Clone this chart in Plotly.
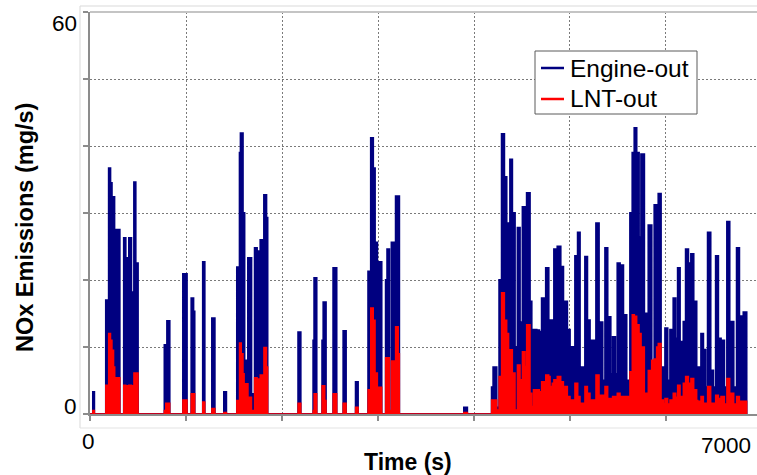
import plotly.graph_objects as go

# ---- data (step series: time in s, NOx in mg/s) ----
engine_time = [0, 30, 45, 165, 195, 213, 228, 255, 274, 310, 352, 372, 389, 405, 431, 448, 458, 476, 500,
               775, 802, 830, 968, 1010, 1055, 1078, 1090, 1175, 1195, 1270, 1300, 1395, 1420,
               1530, 1558, 1568, 1593, 1610, 1645, 1682, 1715, 1740, 1760, 1774, 1802, 1812, 1838, 1850,
               2168, 2195, 2325, 2335, 2361, 2418, 2430, 2458, 2533, 2569, 2638, 2667, 2767, 2792,
               2897, 2925, 2950, 2969, 2993, 3003, 3038, 3080, 3095, 3118, 3140, 3177, 3184, 3222,
               3895, 3930,
               4184, 4200, 4236, 4262, 4288, 4316, 4340, 4375, 4399, 4427, 4453, 4479, 4505, 4531, 4549,
               4583, 4601, 4620, 4653, 4680, 4705, 4733, 4748, 4778, 4792, 4816, 4833, 4868, 4903, 4913,
               4931, 4948, 4972, 5000, 5017, 5045, 5052, 5080, 5104, 5139, 5156, 5181, 5208, 5226, 5253,
               5271, 5302, 5313, 5340, 5365, 5392, 5424, 5444, 5472, 5493,
               5521, 5556, 5590, 5608, 5625, 5649, 5670, 5694, 5719, 5740, 5774, 5809, 5816, 5851, 5878,
               5903, 5920, 5948, 5972, 5990, 6017, 6042, 6066, 6076, 6101, 6122, 6146, 6181, 6205, 6233,
               6260, 6288, 6319, 6330, 6358, 6365, 6389, 6413, 6434, 6465, 6493, 6518, 6545, 6573, 6608,
               6635, 6663, 6677, 6705, 6736, 6764, 6788, 6806, 6840]
engine_nox = [0, 3.3, 0, 17, 36.7, 34.5, 32.4, 26.4, 27.5, 0, 26.3, 23.3, 10, 26.3, 18.2, 5, 34.6, 22.5, 0,
              10.3, 13.9, 0, 20.9, 0, 17.3, 15.3, 0, 22.7, 0, 14.3, 0, 3.3, 0,
              21.9, 39, 41.9, 30, 8, 23.3, 3, 24.8, 24.3, 6, 26, 5, 32.7, 29.3, 0,
              12.2, 0, 11, 20.3, 0, 11, 16.7, 0, 21.8, 0, 12.4, 0, 4.8, 0,
              21.3, 41.2, 36.7, 25.6, 4, 22.7, 0, 20, 24.6, 0, 25.6, 3, 32.5, 0,
              1, 0,
              4, 7, 1, 20, 41.8, 35.4, 28.5, 38, 30, 10, 27.8, 13.7, 30.9, 30, 33,
              16.8, 2.1, 12.6, 12.5, 12.3, 17.3, 7, 21.8, 8, 14, 8, 24.6, 25, 10, 22,
              8, 16.8, 12.6, 6, 10, 6, 23.6, 27.1, 7, 6, 23.5, 14, 5, 11, 6,
              28.5, 6, 13.7, 5, 24.8, 14.5, 6, 11.5, 6, 22.5,
              22.2, 14.8, 5, 3, 30, 39, 42.7, 39, 26.4, 38.8, 15, 8, 28.2, 7, 31.2,
              26, 32.9, 7, 3, 12.8, 5, 12.6, 8, 17.3, 11.3, 21.8, 10.8, 13.8, 24.6, 22.5,
              23.9, 16.8, 5, 7, 5, 12, 9.6, 4, 27.1, 6.5, 4, 23.6, 11.3, 11, 4,
              28.7, 5, 13.8, 4, 24.8, 14.6, 4, 15.2, 0]

lnt_time = [0, 30, 45, 165, 195, 213, 228, 245, 257, 310, 352, 372, 389, 405, 431, 448, 458, 500,
            775, 790, 830, 968, 1010, 1055, 1090, 1175, 1195, 1270, 1300, 1395, 1420,
            1530, 1558, 1575, 1593, 1605, 1645, 1682, 1715, 1740, 1760, 1774, 1802, 1812, 1838, 1850,
            2168, 2195, 2325, 2335, 2361, 2418, 2445, 2458, 2533, 2569, 2638, 2667, 2767, 2792,
            2897, 2925, 2950, 2969, 2993, 3003, 3038, 3080, 3118, 3140, 3177, 3184, 3210, 3222,
            3895, 3930,
            4184, 4236, 4262, 4288, 4316, 4340, 4360, 4375, 4399, 4427, 4453, 4479, 4505, 4531, 4549,
            4583, 4601, 4620, 4680, 4705, 4733, 4748, 4778, 4792, 4816, 4833, 4868, 4903, 4931, 4948,
            4972, 5000, 5017, 5052, 5080, 5104, 5156, 5181, 5208, 5226, 5271, 5302, 5313, 5365, 5392,
            5444, 5493,
            5521, 5608, 5625, 5649, 5670, 5694, 5719, 5740, 5774, 5809, 5816, 5851, 5878, 5903, 5920,
            5948, 5972, 5990, 6017, 6042, 6066, 6076, 6101, 6122, 6146, 6181, 6205, 6233, 6260, 6288,
            6319, 6330, 6365, 6389, 6434, 6465, 6518, 6545, 6573, 6608, 6635, 6663, 6677, 6705, 6736,
            6764, 6806, 6840]
lnt_nox = [0, 0.5, 0, 4.3, 12, 11, 9.5, 7, 5.4, 0, 4.3, 4.2, 1, 4.3, 4.2, 0.5, 6.1, 0,
           0.5, 1.6, 0, 2.1, 0, 3, 0, 1.8, 0, 0.8, 0, 0.2, 0,
           2, 10.6, 9, 6, 4.5, 2.5, 0.5, 5.4, 5.2, 1, 5.8, 2, 9.9, 7, 0,
           1.6, 0, 0.5, 3, 0, 4.2, 2, 0, 3, 0, 1.6, 0, 1, 0,
           3.6, 15.8, 14, 6.1, 0.5, 4, 0, 8.4, 0.5, 7.9, 0.5, 13, 9, 0,
           0.2, 0,
           2.1, 0.6, 5.6, 18.1, 14, 12, 9.1, 9.6, 6.1, 0.6, 7.3, 5.1, 9.3, 7.1, 13.3,
           3.1, 1.1, 3.6, 3.3, 4.8, 2.6, 5.8, 5.6, 4.1, 4.6, 5.1, 5.6, 4.8, 3.5, 4.1,
           2.6, 2, 2.1, 4.6, 2.6, 1.6, 4.1, 3.1, 2, 2.1, 5.8, 2.5, 2.8, 4.1, 2.3,
           2.6, 3.1,
           2.6, 1.1, 6.3, 14.8, 14.6, 13.3, 12, 10, 3.1, 1, 6.5, 8, 8.2, 10, 10.5,
           2.1, 1.5, 2.3, 1.5, 2.1, 1.5, 3.1, 2.5, 4.3, 2.6, 4.6, 5.6, 4.6, 5.3, 3.6,
           2, 1.9, 2.6, 1.6, 4.1, 1.6, 2.8, 2.3, 2.6, 1.5, 5.3, 2, 3.1, 1.5, 2.6,
           1.9, 1.9, 0]

series_names = ["Engine-out", "LNT-out"]
series_colors = ["#000080", "#ff0000"]
series_widths = [1.8, 1.6]

x_tick_values = [0, 7000]
x_tick_labels = ["0", "7000"]
y_tick_values = [0, 60]
y_tick_labels = ["0", "60"]

FONT = "Arial, 'Liberation Sans', sans-serif"

# plot-area geometry (pixels in the 757x475 page)
L, T, B = 90, 12, 414
PW, PH = 757 - L, B - T


def px_x(p):
    return (p - L) / PW


def px_y(p):
    return (B - p) / PH


fig = go.Figure()

for t, v, name, color, w in [(engine_time, engine_nox, series_names[0], series_colors[0], series_widths[0]),
                             (lnt_time, lnt_nox, series_names[1], series_colors[1], series_widths[1])]:
    fig.add_trace(go.Scatter(
        x=t, y=v, mode="lines", line=dict(color=color, width=w, shape="hv"),
        fill="tozeroy", fillcolor=color, name=name, showlegend=False, hoverinfo="skip"))

gray = "#8c8c8c"
fig.update_xaxes(range=[0, 6948], dtick=1000, tick0=0, showgrid=True, gridcolor="#7a7a7a",
                 griddash="2px,2px", gridwidth=1, showline=True, linecolor=gray, linewidth=2,
                 ticks="outside", ticklen=5, tickcolor=gray, tickwidth=1.5,
                 showticklabels=False, zeroline=False)
fig.update_yaxes(range=[0, 60], dtick=10, tick0=0, showgrid=True, gridcolor="#7a7a7a",
                 griddash="2px,2px", gridwidth=1, showline=True, linecolor=gray, linewidth=2,
                 ticks="outside", ticklen=5, tickcolor=gray, tickwidth=1.5,
                 showticklabels=False, zeroline=False)

tick_font = dict(family=FONT, size=22.5, color="black")
annotations = [
    # y tick labels
    dict(xref="paper", yref="y", x=0, y=y_tick_values[1], text=y_tick_labels[1],
         xanchor="right", yanchor="middle", xshift=-11, yshift=-11, showarrow=False, font=tick_font),
    dict(xref="paper", yref="y", x=0, y=y_tick_values[0], text=y_tick_labels[0],
         xanchor="right", yanchor="middle", xshift=-11, yshift=8, showarrow=False, font=tick_font),
    # x tick labels
    dict(xref="x", yref="paper", x=x_tick_values[0], y=0, text=x_tick_labels[0],
         xanchor="center", yanchor="middle", xshift=-2, yshift=-27.5, showarrow=False, font=tick_font),
    dict(xref="paper", yref="paper", x=1, y=0, text=x_tick_labels[1],
         xanchor="right", yanchor="middle", xshift=-4, yshift=-31.5, showarrow=False, font=tick_font),
    # axis titles
    dict(xref="paper", yref="paper", x=px_x(408), y=0, text="<b>Time (s)</b>",
         xanchor="center", yanchor="middle", yshift=-48, showarrow=False,
         font=dict(family=FONT, size=23, color="black")),
    dict(xref="paper", yref="paper", x=0, y=px_y(228), text="<b>NOx Emissions (mg/s)</b>",
         textangle=-90, xanchor="center", yanchor="middle", xshift=-65, showarrow=False,
         font=dict(family=FONT, size=23.5, color="black")),
]

shapes = [
    # outer light frame
    dict(type="line", xref="paper", yref="paper", x0=px_x(80), x1=px_x(80),
         y0=px_y(6), y1=px_y(428), line=dict(color="#d9d9d9", width=1)),
    dict(type="line", xref="paper", yref="paper", x0=px_x(80), x1=1.01,
         y0=px_y(6), y1=px_y(6), line=dict(color="#d9d9d9", width=1)),
    dict(type="line", xref="paper", yref="paper", x0=px_x(80), x1=1.01,
         y0=px_y(428), y1=px_y(428), line=dict(color="#e3e3e3", width=1)),
    # top edge of plot box
    dict(type="line", xref="paper", yref="paper", x0=0, x1=1.01, y0=1, y1=1,
         line=dict(color="#c4c4c4", width=2)),
    # legend box
    dict(type="rect", xref="paper", yref="paper", x0=px_x(535), x1=px_x(697),
         y0=px_y(51), y1=px_y(114), line=dict(color="#5a5a5a", width=1), fillcolor="white",
         layer="above"),
]

# legend entries: line sample + label
legend_rows = [68, 99]
for name, color, row in zip(series_names, series_colors, legend_rows):
    shapes.append(dict(type="line", xref="paper", yref="paper", x0=px_x(541), x1=px_x(564),
                       y0=px_y(row), y1=px_y(row), line=dict(color=color, width=2.5), layer="above"))
    annotations.append(dict(xref="paper", yref="paper", x=px_x(568), y=px_y(row), text=name,
                            xanchor="left", yanchor="middle", showarrow=False,
                            font=dict(family=FONT, size=24.5, color="black")))

fig.update_layout(
    width=757, height=475,
    margin=dict(l=L, r=0, t=T, b=475 - B),
    paper_bgcolor="white", plot_bgcolor="white",
    font=dict(family=FONT, color="black"),
    showlegend=False,
    annotations=annotations,
    shapes=shapes,
)

fig.write_html("out.html", config={"displayModeBar": False},
               post_script="document.body.style.margin='0px';")
